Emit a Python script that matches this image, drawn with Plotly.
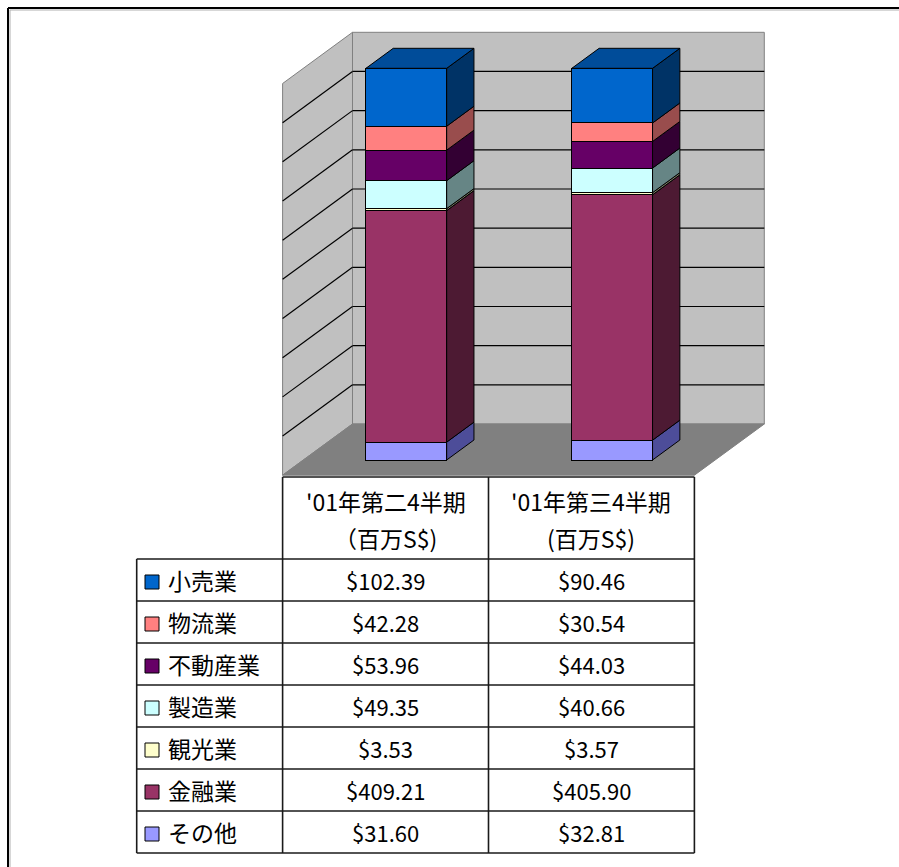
import plotly.graph_objects as go

# ---- data -------------------------------------------------------------
quarters = ["'01年第二4半期", "'01年第三4半期"]
unit_labels = ["（百万S$)", "(百万S$)"]
sectors = ["小売業", "物流業", "不動産業", "製造業", "観光業", "金融業", "その他"]
q2_values = [102.39, 42.28, 53.96, 49.35, 3.53, 409.21, 31.60]
q3_values = [90.46, 30.54, 44.03, 40.66, 3.57, 405.90, 32.81]
series_values = [q2_values, q3_values]

front_colors = ["#0066CC", "#FF8080", "#660066", "#CCFFFF", "#FFFFCC", "#993366", "#9999FF"]
side_colors = ["#003366", "#994D4D", "#330033", "#668585", "#808066", "#4D1A33", "#4D4D99"]
top_color = "#004C99"

# ---- page / projection geometry ---------------------------------------
W, H = 899, 867
U = 205.9          # px per category on the bar front plane
V = 3.917          # px per percent point
X0_PX, Y0_PX = 406.3, 460.0   # px of category 0 / 0 % on the bar front plane
BAR_W = 0.392      # bar width in category units

DEPTH_X = 27.3 / U   # oblique shift per unit of depth (x)
DEPTH_Y = 20.0 / V   # oblique shift per unit of depth (y)
WALL_D = 1.8         # depth of the back wall
FRONT_D = -0.76      # depth of the floor front edge / left wall front


def proj(c, p, d):
    return c + d * DEPTH_X, p + d * DEPTH_Y


def path(points):
    return "M " + " L ".join(f"{x:.5f},{y:.5f}" for x, y in points) + " Z"


def x_of_px(px):
    return (px - X0_PX) / U


def py_paper(py):
    return 1 - py / H


FONT = "Noto Sans CJK JP, Noto Sans, sans-serif"

fig = go.Figure()
shapes = []

# ---- walls and floor --------------------------------------------------
back_wall = [proj(-0.5, 0, WALL_D), proj(1.5, 0, WALL_D),
             proj(1.5, 100, WALL_D), proj(-0.5, 100, WALL_D)]
left_wall = [proj(-0.5, 0, FRONT_D), proj(-0.5, 0, WALL_D),
             proj(-0.5, 100, WALL_D), proj(-0.5, 100, FRONT_D)]
floor = [proj(-0.5, 0, FRONT_D), proj(1.5, 0, FRONT_D),
         proj(1.5, 0, WALL_D), proj(-0.5, 0, WALL_D)]

for poly, fill in [(back_wall, "#C0C0C0"), (left_wall, "#C0C0C0"), (floor, "#808080")]:
    shapes.append(dict(type="path", path=path(poly), xref="x", yref="y",
                       fillcolor=fill, line=dict(color="#808080", width=1),
                       layer="below"))

# gridlines every 10 %
for p in range(10, 100, 10):
    a = proj(-0.5, p, WALL_D)
    b = proj(1.5, p, WALL_D)
    f = proj(-0.5, p, FRONT_D)
    shapes.append(dict(type="line", xref="x", yref="y", x0=a[0], y0=a[1], x1=b[0], y1=b[1],
                       line=dict(color="black", width=1.2), layer="below"))
    shapes.append(dict(type="line", xref="x", yref="y", x0=f[0], y0=f[1], x1=a[0], y1=a[1],
                       line=dict(color="black", width=1.2), layer="below"))

# ---- stacked 100 % columns (front faces) -----------------------------
order = list(range(len(sectors)))[::-1]   # bottom of stack first
for k in order:
    fig.add_trace(go.Bar(
        x=[0, 1], y=[q2_values[k], q3_values[k]], width=BAR_W,
        marker=dict(color=front_colors[k], line=dict(color="black", width=1)),
        name=sectors[k], hoverinfo="skip", showlegend=False))

# ---- side and top faces ----------------------------------------------
for ci, vals in enumerate(series_values):
    total = sum(vals)
    base = 0.0
    xr = ci + BAR_W / 2
    xl = ci - BAR_W / 2
    for k in order:
        top = base + vals[k] / total * 100
        poly = [proj(xr, base, 0), proj(xr, base, 1), proj(xr, top, 1), proj(xr, top, 0), proj(xr, base, 0)]
        fig.add_trace(go.Scatter(
            x=[q[0] for q in poly], y=[q[1] for q in poly], mode="lines",
            fill="toself", fillcolor=side_colors[k],
            line=dict(color="black", width=1), hoverinfo="skip", showlegend=False))
        base = top
    poly = [proj(xl, base, 0), proj(xr, base, 0), proj(xr, base, 1), proj(xl, base, 1), proj(xl, base, 0)]
    fig.add_trace(go.Scatter(
        x=[q[0] for q in poly], y=[q[1] for q in poly], mode="lines",
        fill="toself", fillcolor=top_color,
        line=dict(color="black", width=1), hoverinfo="skip", showlegend=False))

# ---- data table -------------------------------------------------------
col_edges = [proj(e, 0, FRONT_D)[0] for e in (-0.5, 0.5, 1.5)]
col_centers = [proj(c, 0, FRONT_D)[0] for c in (0, 1)]
legend_left = x_of_px(136.7)
table_top = 477.0
header_bottom = 559.0
row_h = 42.0
row_edges = [header_bottom + i * row_h for i in range(len(sectors) + 1)]
table_bottom = row_edges[-1]
TABLE_LINE = dict(color="#1a1a1a", width=1.6)

shapes.append(dict(type="line", xref="x", yref="paper", x0=col_edges[0], x1=col_edges[-1],
                   y0=py_paper(table_top), y1=py_paper(table_top), line=TABLE_LINE))
for xe in col_edges:
    shapes.append(dict(type="line", xref="x", yref="paper", x0=xe, x1=xe,
                       y0=py_paper(table_top), y1=py_paper(table_bottom), line=TABLE_LINE))
shapes.append(dict(type="line", xref="x", yref="paper", x0=legend_left, x1=legend_left,
                   y0=py_paper(header_bottom), y1=py_paper(table_bottom), line=TABLE_LINE))
for ye in row_edges:
    shapes.append(dict(type="line", xref="x", yref="paper", x0=legend_left, x1=col_edges[-1],
                       y0=py_paper(ye), y1=py_paper(ye), line=TABLE_LINE))

annotations = []
for ci in range(2):
    annotations.append(dict(x=col_centers[ci], y=py_paper(501), xref="x", yref="paper",
                            text=quarters[ci], showarrow=False, xanchor="center", yanchor="middle",
                            font=dict(family=FONT, size=23, color="black")))
    annotations.append(dict(x=col_centers[ci], y=py_paper(537.5), xref="x", yref="paper",
                            text=unit_labels[ci], showarrow=False, xanchor="center", yanchor="middle",
                            font=dict(family=FONT, size=23, color="black")))

for k, name in enumerate(sectors):
    yc = (row_edges[k] + row_edges[k + 1]) / 2
    shapes.append(dict(type="rect", xref="x", yref="paper",
                       x0=x_of_px(145), x1=x_of_px(159),
                       y0=py_paper(yc - 5), y1=py_paper(yc + 9),
                       fillcolor=front_colors[k], line=dict(color="black", width=1)))
    annotations.append(dict(x=x_of_px(166), y=py_paper(yc), xref="x", yref="paper",
                            text=name, showarrow=False, xanchor="left", yanchor="middle",
                            font=dict(family=FONT, size=23, color="black")))
    for ci, vals in enumerate(series_values):
        annotations.append(dict(x=col_centers[ci], y=py_paper(yc), xref="x", yref="paper",
                                text=f"${vals[k]:.2f}", showarrow=False,
                                xanchor="center", yanchor="middle",
                                font=dict(family=FONT, size=22, color="black")))

# ---- outer frame (only its top and left edges fall on the page) --------
for off, col, wd in [(8, "black", 2), (10, "#B0B0B0", 1)]:
    shapes.append(dict(type="line", xref="paper", yref="paper",
                       x0=off / W, x1=1.0, y0=py_paper(off), y1=py_paper(off),
                       line=dict(color=col, width=wd)))
    shapes.append(dict(type="line", xref="paper", yref="paper",
                       x0=off / W, x1=off / W, y0=py_paper(off), y1=0.0,
                       line=dict(color=col, width=wd)))

fig.update_layout(
    width=W, height=H, autosize=False,
    margin=dict(l=0, r=0, t=0, b=0, pad=0),
    paper_bgcolor="white", plot_bgcolor="rgba(0,0,0,0)",
    barmode="stack", barnorm="percent",
    showlegend=False,
    xaxis=dict(range=[x_of_px(0), x_of_px(W)], visible=False, fixedrange=True),
    yaxis=dict(range=[(Y0_PX - H) / V, Y0_PX / V], visible=False, fixedrange=True),
    shapes=shapes, annotations=annotations,
)

fig.write_html("out.html")
